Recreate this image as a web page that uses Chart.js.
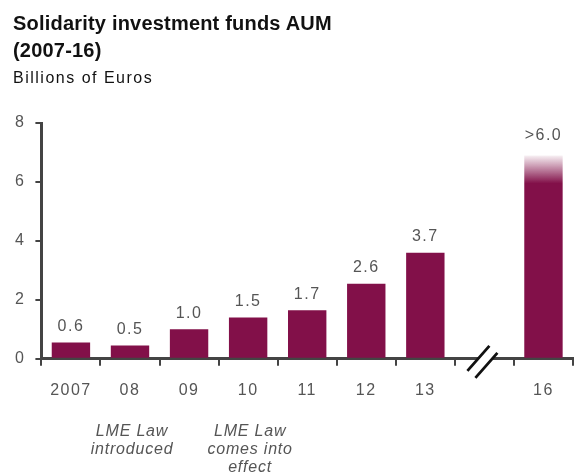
<!DOCTYPE html>
<html>
<head>
<meta charset="utf-8">
<script src="https://cdn.jsdelivr.net/npm/chart.js@4"></script>
<style>
  body { margin: 0; background: #fff; font-family: "Liberation Sans", Arial, sans-serif; }
  #wrap { position: relative; width: 574px; height: 475px; }
  #title { position: absolute; left: 13px; top: 10px; font-size: 20px; font-weight: bold; color: #111; line-height: 27px; letter-spacing: 0.2px; }
  #sub { position: absolute; left: 13px; top: 69px; font-size: 16px; line-height: 18px; color: #111; letter-spacing: 1.5px; }
  canvas { position: absolute; left: 0; top: 0; }
</style>
</head>
<body>
<div id="wrap">
  <canvas id="chart" width="574" height="475"></canvas>
  <div id="title">Solidarity investment funds AUM<br>(2007-16)</div>
  <div id="sub">Billions of Euros</div>
</div>
<script>
const years = ['2007', '08', '09', '10', '11', '12', '13', '', '16'];
const aum = [0.55, 0.45, 1.0, 1.4, 1.65, 2.55, 3.6, null, 6.9];
const valueLabels = ['0.6', '0.5', '1.0', '1.5', '1.7', '2.6', '3.7', '', '>6.0'];
const notes = [[1, ['LME Law', 'introduced']], [3, ['LME Law', 'comes into', 'effect']]];
const yTicks = [0, 2, 4, 6, 8];

const wine = '#821049';
const grey = '#555';
const font = '"Liberation Sans", Arial, sans-serif';

// the source has loosely spaced text
const spacing = {
  id: 'spacing',
  beforeLayout(chart) { chart.ctx.letterSpacing = '1.5px'; },
  beforeDraw(chart) { chart.ctx.letterSpacing = '1.5px'; }
};

// labels over bars, the // break and the notes under the axis
const extras = {
  id: 'extras',
  afterDatasetsDraw(chart) {
    const { ctx, scales: { x, y } } = chart;
    const meta = chart.getDatasetMeta(0);
    ctx.save();
    ctx.fillStyle = grey;
    ctx.font = '16px ' + font;
    ctx.textAlign = 'center';
    ctx.textBaseline = 'bottom';
    meta.data.forEach((bar, i) => {
      if (aum[i] == null) return;
      ctx.fillText(valueLabels[i], bar.x, bar.y - (i === 8 ? 12 : 8));
    });

    // axis break
    const bx = x.getPixelForValue(7) - 2;
    const by = y.getPixelForValue(0) + 3;
    ctx.fillStyle = '#fff';
    ctx.beginPath();
    ctx.moveTo(bx - 15, by + 9); ctx.lineTo(bx + 7, by - 16);
    ctx.lineTo(bx + 15, by - 9); ctx.lineTo(bx - 7, by + 16);
    ctx.closePath(); ctx.fill();
    ctx.strokeStyle = '#111';
    ctx.lineWidth = 2.8;
    ctx.beginPath();
    ctx.moveTo(bx - 15, by + 9); ctx.lineTo(bx + 7, by - 16);
    ctx.moveTo(bx - 7, by + 16); ctx.lineTo(bx + 15, by - 9);
    ctx.stroke();

    ctx.fillStyle = grey;
    ctx.font = 'italic 16px ' + font;
    ctx.letterSpacing = '0.8px';
    ctx.textBaseline = 'middle';
    notes.forEach(([i, lines]) => {
      const cx = x.getPixelForValue(i) + 2;
      lines.forEach((t, k) => ctx.fillText(t, cx, 432 + k * 18));
    });
    ctx.restore();
  }
};

new Chart(document.getElementById('chart'), {
  type: 'bar',
  data: {
    labels: years,
    datasets: [{
      data: aum,
      backgroundColor(c) {
        const chart = c.chart;
        if (c.dataIndex !== 8 || !chart.chartArea) return wine;
        const y = chart.scales.y;
        const top = y.getPixelForValue(aum[8]);
        const g = chart.ctx.createLinearGradient(0, top, 0, top + 28);
        g.addColorStop(0, 'rgba(130,16,73,0.06)');
        g.addColorStop(1, wine);
        return g;
      },
      borderWidth: 0,
      barPercentage: 0.65,
      categoryPercentage: 1
    }]
  },
  options: {
    responsive: false,
    animation: false,
    layout: { padding: { left: 5, right: 1, top: 123, bottom: 60 } },
    plugins: { legend: { display: false }, tooltip: { enabled: false } },
    scales: {
      x: {
        grid: { display: true, drawOnChartArea: false, offset: true, tickLength: 7, color: '#444', lineWidth: 2 },
        border: { color: '#444', width: 3 },
        ticks: { color: grey, font: { size: 16, family: font }, padding: 15 }
      },
      y: {
        min: 0, max: 8,
        afterBuildTicks(axis) { axis.ticks = yTicks.map(v => ({ value: v })); },
        grid: { drawOnChartArea: false, tickLength: 6, color: '#444', lineWidth: 2 },
        border: { color: '#444', width: 3 },
        ticks: { color: grey, font: { size: 16, family: font }, padding: 10 }
      }
    }
  },
  plugins: [spacing, extras]
});
</script>
</body>
</html>
